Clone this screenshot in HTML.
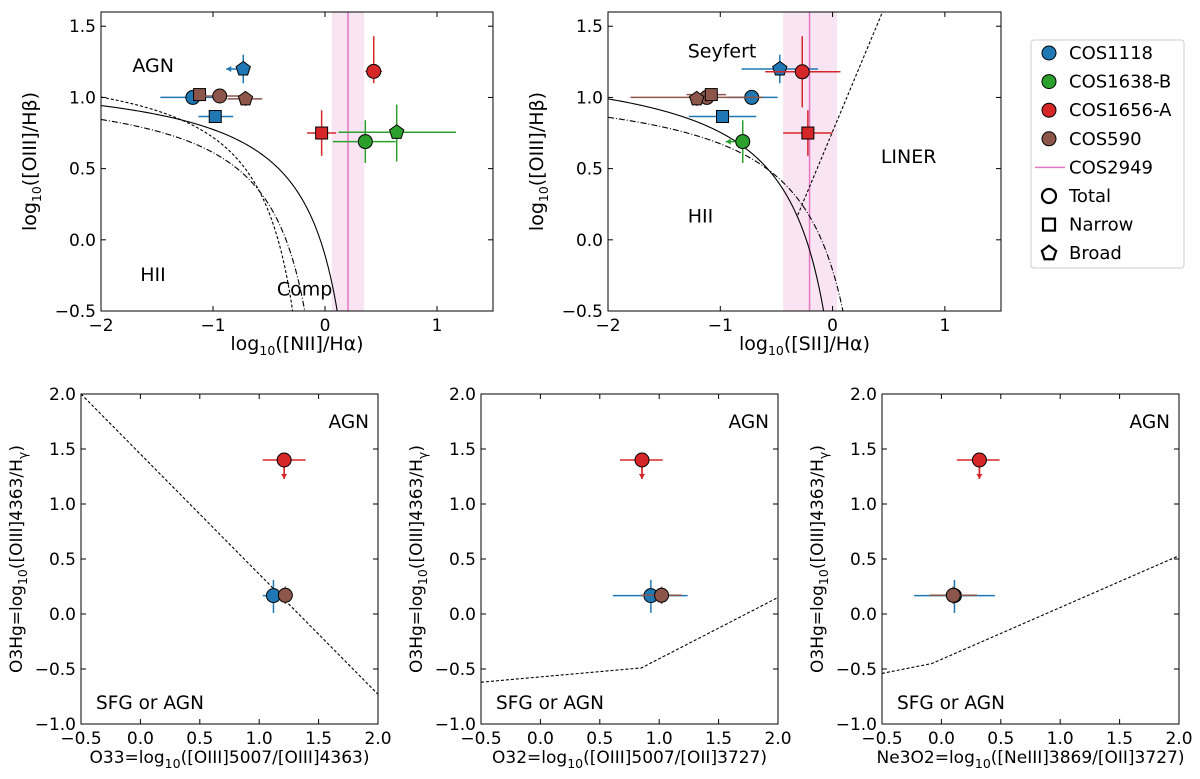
<!DOCTYPE html>
<html><head><meta charset="utf-8">
<style>
html,body{margin:0;padding:0;background:#fff;overflow:hidden;width:1200px;height:779px;}
svg{display:block;font-family:"DejaVu Sans","Liberation Sans",sans-serif;}
</style></head>
<body>
<svg id="fig" width="1200" height="779" viewBox="0 0 1200 779" xmlns="http://www.w3.org/2000/svg"></svg>
<script>
// ---------- DATA ----------
const sources = ['COS1118','COS1638-B','COS1656-A','COS590'];
const sourceColors = ['#1f77b4','#2ca02c','#d62728','#8c564b'];
// Panel: [NII]/Ha BPT  (src, shape, x, y, xlo, xhi, ylo, yhi, xUpperLimit)
const niiPoints = [
  ['COS1118','pent',-0.73,1.20,-0.73,-0.73,1.10,1.30,true],
  ['COS1118','circle',-1.18,1.00,-1.47,-1.0,0.98,1.02,false],
  ['COS1118','square',-0.98,0.866,-1.13,-0.82,0.84,0.89,false],
  ['COS1656-A','circle',0.435,1.183,0.36,0.51,1.10,1.43,false],
  ['COS1656-A','square',-0.03,0.75,-0.16,0.10,0.59,0.91,false],
  ['COS1638-B','circle',0.36,0.69,0.07,0.63,0.54,0.84,false],
  ['COS1638-B','pent',0.64,0.755,0.12,1.17,0.55,0.95,false],
  ['COS590','square',-1.12,1.02,-1.18,-1.06,1.0,1.04,false],
  ['COS590','circle',-0.94,1.01,-1.12,-0.76,0.99,1.03,false],
  ['COS590','pent',-0.71,0.99,-0.87,-0.56,0.94,1.04,false]
];
const niiCOS2949 = [0.205, 0.06, 0.35];
// Panel: [SII]/Ha BPT
const siiPoints = [
  ['COS1118','pent',-0.47,1.20,-0.81,-0.13,1.10,1.30,false],
  ['COS1118','circle',-0.72,1.00,-0.94,-0.49,0.98,1.02,false],
  ['COS1118','square',-0.98,0.866,-1.28,-0.68,0.84,0.89,false],
  ['COS1656-A','circle',-0.27,1.18,-0.60,0.07,0.93,1.43,false],
  ['COS1656-A','square',-0.22,0.75,-0.44,0.0,0.59,0.91,false],
  ['COS1638-B','circle',-0.80,0.69,-0.80,-0.80,0.54,0.84,true],
  ['COS590','circle',-1.12,1.00,-1.80,-0.62,0.98,1.02,false],
  ['COS590','square',-1.08,1.02,-1.30,-0.95,1.0,1.04,false],
  ['COS590','pent',-1.21,0.99,-1.25,-1.17,0.94,1.04,false]
];
const siiCOS2949 = [-0.205, -0.44, 0.04];
// Bottom panels: O3Hg (y) vs O33 / O32 / Ne3O2
const o3hgValues = [0.167, 1.40, 0.17];          // COS1118, COS1656-A (upper limit), COS590
const o3hgLo = [0.01, 1.23, 0.09];
const o3hgHi = [0.31, 1.40, 0.25];
const o33Values = [1.12, 1.21, 1.22];
const o33Lo = [1.03, 1.03, 1.18];
const o33Hi = [1.21, 1.39, 1.26];
const o32Values = [0.93, 0.855, 1.02];
const o32Lo = [0.61, 0.67, 0.85];
const o32Hi = [1.24, 1.03, 1.19];
const ne3o2Values = [0.11, 0.32, 0.10];
const ne3o2Lo = [-0.23, 0.13, -0.10];
const ne3o2Hi = [0.45, 0.49, 0.30];
const bottomSources = ['COS1118','COS1656-A','COS590'];
const o33LineX = [-0.5, 2.0], o33LineY = [2.0, -0.73];
const o32LineX = [-0.5, 0.85, 2.0], o32LineY = [-0.62, -0.49, 0.15];
const ne3o2LineX = [-0.5, -0.08, 2.0], ne3o2LineY = [-0.54, -0.45, 0.53];

// ---------- HELPERS ----------
const NS='http://www.w3.org/2000/svg';
const svg=document.getElementById('fig');
function mk(tag,attrs,parent){const e=document.createElementNS(NS,tag);for(const k in attrs)e.setAttribute(k,attrs[k]);(parent||svg).appendChild(e);return e;}
function colorOf(s){return sourceColors[sources.indexOf(s)];}
function fmt(v,d){const s=v.toFixed(d);return v<0?'\u2212'+s.slice(1):s;}
function makeAxes(cfg){
  const g=mk('g',{});
  
  
  const sx=v=>cfg.L+(v-cfg.x0)/(cfg.x1-cfg.x0)*(cfg.R-cfg.L);
  const sy=v=>cfg.B-(v-cfg.y0)/(cfg.y1-cfg.y0)*(cfg.B-cfg.T);
  const cid='clip-'+cfg.name;
  const cp=mk('clipPath',{id:cid},g);mk('rect',{x:cfg.L,y:cfg.T,width:cfg.R-cfg.L,height:cfg.B-cfg.T},cp);
  const plot=mk('g',{'clip-path':'url(#'+cid+')'},g);
  return {g,plot,sx,sy,cfg};
}
function finishAxes(ax){
  const {g,sx,sy,cfg}=ax;
  const fr=mk('rect',{x:cfg.L,y:cfg.T,width:cfg.R-cfg.L,height:cfg.B-cfg.T,fill:'none',stroke:'#000','stroke-width':1},g);
  
  
  cfg.xt.forEach(v=>{const x=sx(v);
    mk('line',{x1:x,x2:x,y1:cfg.B,y2:cfg.B-5,stroke:'#000'},g);
    mk('line',{x1:x,x2:x,y1:cfg.T,y2:cfg.T+5,stroke:'#000'},g);
    const t=mk('text',{x:x,y:cfg.B+20,'text-anchor':'middle','font-size':17},g);t.textContent=fmt(v,cfg.xd);
    
    
  });
  cfg.yt.forEach(v=>{const y=sy(v);
    mk('line',{x1:cfg.L,x2:cfg.L+5,y1:y,y2:y,stroke:'#000'},g);
    mk('line',{x1:cfg.R,x2:cfg.R-5,y1:y,y2:y,stroke:'#000'},g);
    const t=mk('text',{x:cfg.L-5,y:y+6,'text-anchor':'end','font-size':17},g);t.textContent=fmt(v,1);
    
    
  });
  const xl=mk('text',{x:(cfg.L+cfg.R)/2,y:cfg.B+cfg.xly,'text-anchor':'middle','font-size':cfg.lfs},g);
  xl.innerHTML=cfg.xlab;
  
  
  const cy=(cfg.T+cfg.B)/2;
  const yl=mk('text',{x:cfg.ylx,y:cy,'text-anchor':'middle','font-size':cfg.lfs,transform:'rotate(-90 '+cfg.ylx+' '+cy+')'},g);
  yl.innerHTML=cfg.ylab;
  
  
}
function curve(ax,f,xa,xb,dash,name){
  let d='';const n=400;
  for(let i=0;i<=n;i++){const x=xa+(xb-xa)*i/n;const y=f(x);if(!isFinite(y))continue;
    const py=Math.max(-2000,Math.min(3000,ax.sy(y)));d+=(d?'L':'M')+ax.sx(x).toFixed(2)+','+py.toFixed(2);}
  const p=mk('path',{d:d,fill:'none',stroke:'#000','stroke-width':1.1,'stroke-dasharray':dash||'none'},ax.plot);
  
  
}
function polyline(ax,xs,ys,name){
  const pts=xs.map((x,i)=>ax.sx(x)+','+ax.sy(ys[i])).join(' ');
  const p=mk('polyline',{points:pts,fill:'none',stroke:'#000','stroke-width':1.1,'stroke-dasharray':'3,2'},ax.plot);
  
  
}
function marker(parent,shape,cx,cy,col){
  let e;
  if(shape==='circle')e=mk('circle',{cx:cx,cy:cy,r:7},parent);
  else if(shape==='square')e=mk('rect',{x:cx-6,y:cy-6,width:12,height:12},parent);
  else{const r=7.5;let pts=[];for(let k=0;k<5;k++){const a=-Math.PI/2+k*2*Math.PI/5;pts.push((cx+r*Math.cos(a)).toFixed(2)+','+(cy+r*Math.sin(a)).toFixed(2));}
    e=mk('polygon',{points:pts.join(' ')},parent);}
  e.setAttribute('fill',col);e.setAttribute('stroke','#000');e.setAttribute('stroke-width',1);
  return e;
}
function arrow(parent,x1,y1,x2,y2,col){
  mk('line',{x1:x1,y1:y1,x2:x2,y2:y2,stroke:col,'stroke-width':1.5},parent);
  const dx=x2-x1,dy=y2-y1,L=Math.hypot(dx,dy),ux=dx/L,uy=dy/L;
  const p=[[x2,y2],[x2-5*ux+3*uy,y2-5*uy-3*ux],[x2-5*ux-3*uy,y2-5*uy+3*ux]];
  mk('polygon',{points:p.map(q=>q.join(',')).join(' '),fill:col},parent);
}
function drawPoint(ax,src,shape,x,y,xlo,xhi,ylo,yhi,xul,yul){
  const col=colorOf(src);
  const g=mk('g',{},ax.plot);
  
  
  const cx=ax.sx(x),cy=ax.sy(y);
  if(xlo!==xhi)mk('line',{x1:ax.sx(xlo),x2:ax.sx(xhi),y1:cy,y2:cy,stroke:col,'stroke-width':1.5},g);
  if(ylo!==yhi)mk('line',{x1:cx,x2:cx,y1:ax.sy(ylo),y2:ax.sy(yhi),stroke:col,'stroke-width':1.5},g);
  if(xul)arrow(g,cx,cy,cx-17,cy,col);
  if(yul)arrow(g,cx,cy,cx,cy+19,col);
  marker(g,shape,cx,cy,col);
}
function label(ax,txt,x,y,anchor,name){
  const t=mk('text',{x:ax.sx(x),y:ax.sy(y),'font-size':19,'text-anchor':anchor||'start'},ax.g);
  t.textContent=txt;
  
  
}
function band(ax,arr){
  const [c,lo,hi]=arr;
  const r=mk('rect',{x:ax.sx(lo),y:ax.cfg.T,width:ax.sx(hi)-ax.sx(lo),height:ax.cfg.B-ax.cfg.T,fill:'#e377c2','fill-opacity':0.2},ax.plot);
  
  
  const l=mk('line',{x1:ax.sx(c),x2:ax.sx(c),y1:ax.cfg.T,y2:ax.cfg.B,stroke:'#e377c2','stroke-width':1.5},ax.plot);
  
  
}
const sub='<tspan font-size="12.5" dy="5">10</tspan><tspan dy="-5">';
const ylTop='log'+sub+'([OIII]/H\u03b2)</tspan>';
const ylBot='O3Hg=log'+sub+'([OIII]4363/H</tspan><tspan font-size="12.5" dy="5">\u03b3</tspan><tspan dy="-5">)</tspan>';

// ---------- TOP LEFT: NII BPT ----------
{
 const ax=makeAxes({name:'nii-bpt-panel',L:101,R:493,T:12,B:311,x0:-2,x1:1.5,y0:-0.5,y1:1.6,xt:[-2,-1,0,1],yt:[-0.5,0,0.5,1,1.5],xd:0,
   xlab:'log'+sub+'([NII]/H\u03b1)</tspan>',ylab:ylTop,ylx:36,lfs:19,xly:39});
 band(ax,niiCOS2949);
 curve(ax,x=>0.61/(x-0.47)+1.19,-2,0.46,null,'kewley-2001-line');
 curve(ax,x=>0.61/(x-0.05)+1.3,-2,0.04,'3,2','kauffmann-2003-line');
 curve(ax,x=>0.61/(x-0.195)+1.123,-2,0.18,'6,2,1,2','dash-dot-line');
 niiPoints.forEach(p=>drawPoint(ax,p[0],p[1],p[2],p[3],p[4],p[5],p[6],p[7],p[8],false));
 label(ax,'AGN',-1.72,1.18,'start','agn-region-label');
 label(ax,'HII',-1.65,-0.29,'start','hii-region-label');
 label(ax,'Comp',-0.43,-0.39,'start','composite-region-label');
 finishAxes(ax);
}
// ---------- TOP MIDDLE: SII BPT ----------
{
 const ax=makeAxes({name:'sii-bpt-panel',L:608,R:1001,T:12,B:311,x0:-2,x1:1.5,y0:-0.5,y1:1.6,xt:[-2,-1,0,1],yt:[-0.5,0,0.5,1,1.5],xd:0,
   xlab:'log'+sub+'([SII]/H\u03b1)</tspan>',ylab:ylTop,ylx:543,lfs:19,xly:39});
 band(ax,siiCOS2949);
 curve(ax,x=>0.72/(x-0.32)+1.30,-2,0.31,null,'kewley-2001-line');
 curve(ax,x=>0.72/(x-0.53)+1.145,-2,0.52,'6,2,1,2','dash-dot-line');
 curve(ax,x=>1.89*x+0.76,-0.31,0.5,'3,2','seyfert-liner-line');
 siiPoints.forEach(p=>drawPoint(ax,p[0],p[1],p[2],p[3],p[4],p[5],p[6],p[7],p[8],false));
 label(ax,'Seyfert',-1.29,1.28,'start','seyfert-region-label');
 label(ax,'LINER',0.43,0.54,'start','liner-region-label');
 label(ax,'HII',-1.29,0.12,'start','hii-region-label');
 finishAxes(ax);
}
// ---------- BOTTOM PANELS ----------
function bottomPanel(name,L,xv,xlo,xhi,lx,ly,xlab,lineName){
 const ax=makeAxes({name:name,L:L,R:L+297,T:394,B:724,x0:-0.5,x1:2.0,y0:-1,y1:2,xt:[-0.5,0,0.5,1,1.5,2],yt:[-1,-0.5,0,0.5,1,1.5,2],xd:1,
   xlab:xlab,ylab:ylBot,ylx:L-59,lfs:17,xly:39});
 polyline(ax,lx,ly,lineName);
 bottomSources.forEach((s,i)=>drawPoint(ax,s,'circle',xv[i],o3hgValues[i],xlo[i],xhi[i],o3hgLo[i],o3hgHi[i],false,s==='COS1656-A'));
 const a=mk('text',{x:L+288,y:428,'font-size':18.5,'text-anchor':'end'},ax.g);a.textContent='AGN';
 
 
 const b=mk('text',{x:L+15,y:709,'font-size':18.5},ax.g);b.textContent='SFG or AGN';
 
 
 finishAxes(ax);
}
bottomPanel('o33-panel',81,o33Values,o33Lo,o33Hi,o33LineX,o33LineY,'O33=log'+sub+'([OIII]5007/[OIII]4363)</tspan>','o33-demarcation-line');
bottomPanel('o32-panel',481,o32Values,o32Lo,o32Hi,o32LineX,o32LineY,'O32=log'+sub+'([OIII]5007/[OII]3727)</tspan>','o32-demarcation-line');
bottomPanel('ne3o2-panel',882,ne3o2Values,ne3o2Lo,ne3o2Hi,ne3o2LineX,ne3o2LineY,'Ne3O2=log'+sub+'([NeIII]3869/[OII]3727)</tspan>','ne3o2-demarcation-line');

// ---------- LEGEND ----------
{
 const g=mk('g',{});
 
 
 mk('rect',{x:1031,y:40,width:153,height:228,rx:3,fill:'#fff',stroke:'#ccc'},g);
 const rows=[['COS1118','circle',sourceColors[0]],['COS1638-B','circle',sourceColors[1]],['COS1656-A','circle',sourceColors[2]],['COS590','circle',sourceColors[3]],
   ['COS2949','line','#e377c2'],['Total','circle','#fff'],['Narrow','square','#fff'],['Broad','pent','#fff']];
 rows.forEach((r,i)=>{
  const y=53+i*28.6;
  const eg=mk('g',{},g);
  
  
  if(r[1]==='line')mk('line',{x1:1035,x2:1065,y1:y,y2:y,stroke:r[2],'stroke-width':1.5},eg);
  else{const m=marker(eg,r[1],1049,y,r[2]);if(i>=5)m.setAttribute('stroke-width',2.2);}
  const t=mk('text',{x:1069,y:y+6,'font-size':18},eg);t.textContent=r[0];
 });
}
</script>
</body></html>
